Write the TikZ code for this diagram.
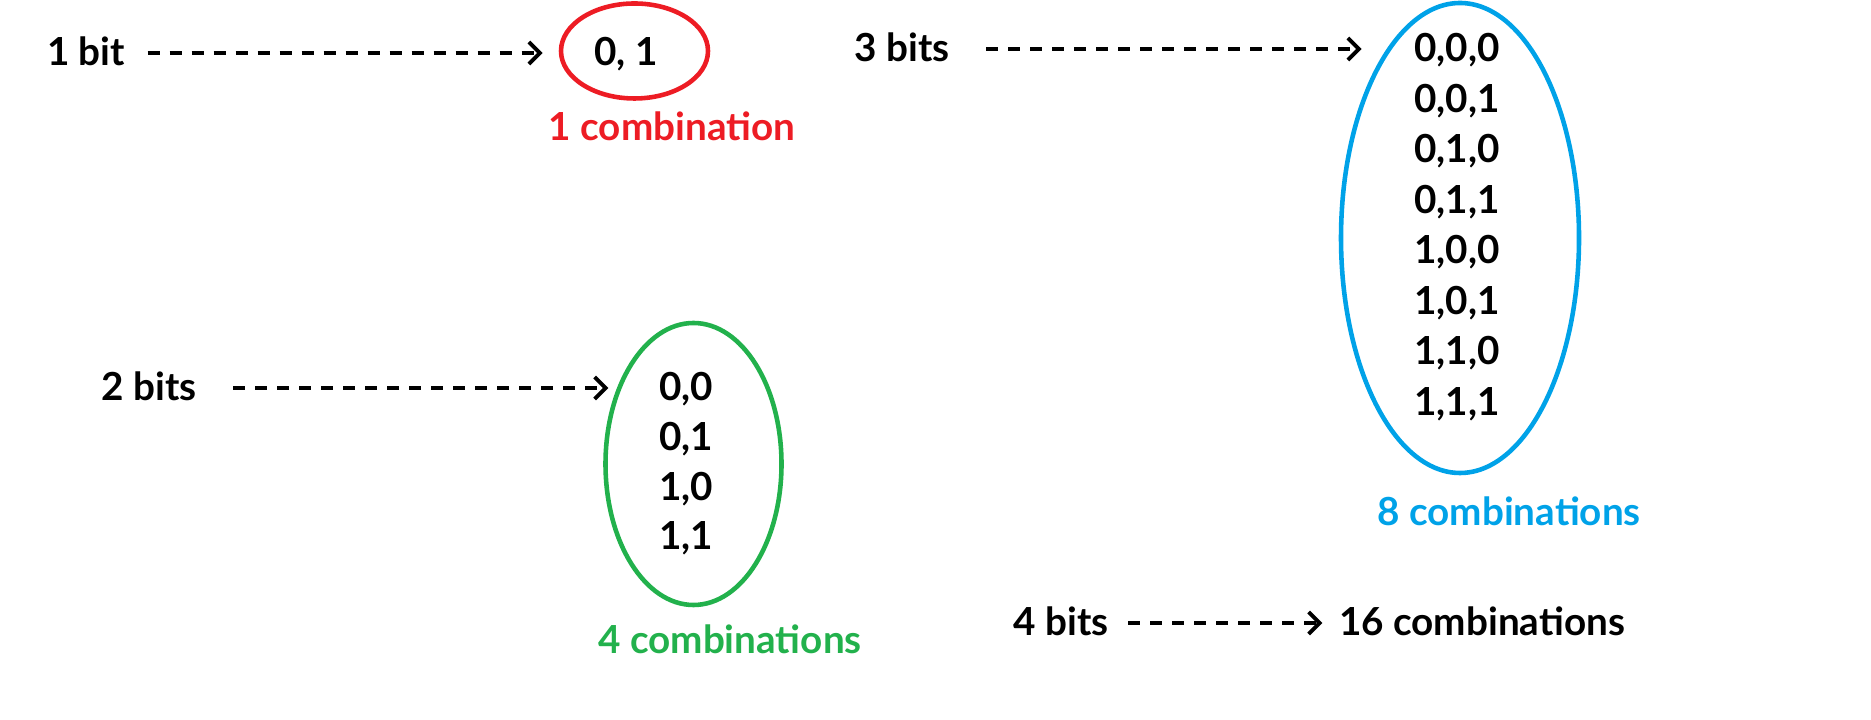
\documentclass[tikz,border=0pt]{standalone}
\usepackage{fontspec}
\setmainfont{Lato}
\usetikzlibrary{arrows.meta}
\definecolor{paintred}{RGB}{237,28,36}
\definecolor{paintgreen}{RGB}{34,177,76}
\definecolor{paintblue}{RGB}{0,162,232}
\tikzstyle{lbl}=[font=\fontsize{11}{13}\selectfont\bfseries, inner sep=0pt, text height=0.72em, text depth=0pt]
\tikzstyle{dasharrow}=[line width=1.1pt, dash pattern=on 1.2mm off 1mm, -{Straight Barb[length=1.1mm,width=2.2mm]}]
\tikzstyle{ring}=[line width=1.3pt]

\begin{document}
\begin{tikzpicture}[x=1cm,y=-1cm]
    \useasboundingbox (0,0) rectangle (18.71,7.20);
    % 1 bit
    \node[lbl] (b1) at (0.86,0.53) {1 bit};
    \node[lbl] (c1) at (6.26,0.53) {0, 1};
    \node[lbl, text=paintred] (n1) at (6.72,1.28) {1 combination};
    \draw[ring, draw=paintred] (6.345,0.51) ellipse (0.735 and 0.475);

    % 2 bits
    \node[lbl] (b2) at (1.49,3.88) {2 bits};
    \foreach \v [count=\i] in {{0,0},{0,1},{1,0},{1,1}}
      \node[lbl] (r2-\i) at (6.86,{3.88+(\i-1)*0.497}) {\v};
    \node[lbl, text=paintgreen] (n2) at (7.30,6.41) {4 combinations};
    \draw[ring, draw=paintgreen] (6.935,4.64) ellipse (0.88 and 1.41);

    % 3 bits
    \node[lbl] (b3) at (9.02,0.49) {3 bits};
    \foreach \v [count=\i] in {{0,0,0},{0,0,1},{0,1,0},{0,1,1},
          {1,0,0},{1,0,1},{1,1,0},{1,1,1}}
      \node[lbl] (r3-\i) at (14.57,{0.49+(\i-1)*0.505}) {\v};
    \node[lbl, text=paintblue] (n3) at (15.09,5.13) {8 combinations};
    \draw[ring, draw=paintblue] (14.60,2.38) ellipse (1.19 and 2.35);

    % 4 bits
    \node[lbl] (b4) at (10.61,6.23) {4 bits};
    \node[lbl] (n4) at (14.82,6.23) {16 combinations};

    \draw[dasharrow, shorten <=0.22cm, shorten >=0.51cm] (b1) -- (c1);
    \draw[dasharrow, shorten <=0.36cm, shorten >=0.50cm] (b2) -- (r2-1);
    \draw[dasharrow, shorten <=0.36cm, shorten >=0.52cm] (b3) -- (r3-1);
    \draw[dasharrow, shorten <=0.19cm, shorten >=0.16cm] (b4) -- (n4);
\end{tikzpicture}
\end{document}
